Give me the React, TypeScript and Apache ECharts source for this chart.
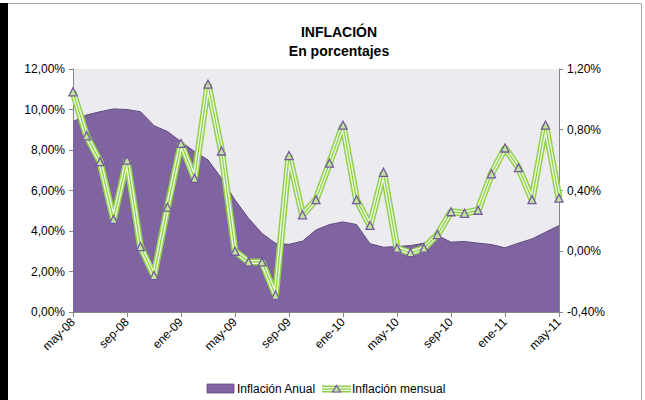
import React, { useEffect, useRef } from "react";
import * as echarts from "echarts";

const months = [
  "may-08", "jun-08", "jul-08", "ago-08", "sep-08", "oct-08", "nov-08", "dic-08",
  "ene-09", "feb-09", "mar-09", "abr-09", "may-09", "jun-09", "jul-09", "ago-09",
  "sep-09", "oct-09", "nov-09", "dic-09", "ene-10", "feb-10", "mar-10", "abr-10",
  "may-10", "jun-10", "jul-10", "ago-10", "sep-10", "oct-10", "nov-10", "dic-10",
  "ene-11", "feb-11", "mar-11", "abr-11", "may-11",
];

const inflacionAnual = [
  9.4, 9.73, 9.89, 10.03, 10.0, 9.89, 9.2, 8.91,
  8.41, 7.92, 7.51, 6.6, 5.53, 4.63, 3.88, 3.39,
  3.34, 3.5, 4.05, 4.32, 4.45, 4.32, 3.37, 3.2,
  3.23, 3.28, 3.4, 3.78, 3.45, 3.48, 3.4, 3.33,
  3.17, 3.4, 3.61, 3.94, 4.27,
];

const inflacionMensual = [
  1.05, 0.76, 0.59, 0.21, 0.6, 0.03, -0.16, 0.29,
  0.71, 0.48, 1.1, 0.66, 0.0, -0.07, -0.07, -0.29,
  0.63, 0.24, 0.34, 0.58, 0.83, 0.34, 0.17, 0.52,
  0.02, -0.01, 0.02, 0.11, 0.26, 0.25, 0.27, 0.51,
  0.68, 0.55, 0.34, 0.83, 0.35,
];

const FONT = "'Liberation Sans', Arial, sans-serif";
const GREEN = "#8fd14a";
const LIGHT = "#eef8e2";
const PURPLE = "#8064a2";
const MARK_FILL = "#c2e49c";
const MARK_EDGE = "#7558a0";

const pct = (v: number) => v.toFixed(2).replace(".", ",") + "%";

export default function App() {
  const ref = useRef<HTMLDivElement>(null);
  useEffect(() => {
    if (!ref.current) return;
    const chart = echarts.init(ref.current, null, { renderer: "svg" });
    const lineBase = {
      type: "line" as const,
      yAxisIndex: 1,
      data: inflacionMensual,
      silent: true,
    };
    chart.setOption({
      animation: false,
      backgroundColor: "#ffffff",
      textStyle: { fontFamily: FONT },
      title: [
        {
          text: "INFLACIÓN",
          left: 334,
          top: 20,
          textAlign: "center",
          textStyle: { fontFamily: FONT, fontSize: 14, fontWeight: "bold", color: "#000" },
        },
        {
          text: "En porcentajes",
          left: 334,
          top: 39,
          textAlign: "center",
          textStyle: { fontFamily: FONT, fontSize: 14, fontWeight: "bold", color: "#000" },
        },
      ],
      grid: {
        left: 73,
        right: 86,
        top: 69,
        bottom: 88,
        show: true,
        backgroundColor: "#ecebf0",
        borderWidth: 0,
      },
      xAxis: {
        type: "category",
        data: months,
        boundaryGap: false,
        axisLine: { onZero: false, lineStyle: { color: "#868686" } },
        axisTick: { interval: 3, length: 5, lineStyle: { color: "#868686" } },
        axisLabel: {
          interval: 3,
          rotate: 45,
          fontSize: 12,
          color: "#000",
          fontFamily: FONT,
          margin: 8,
        },
        splitLine: { show: false },
      },
      yAxis: [
        {
          type: "value",
          min: 0,
          max: 12,
          interval: 2,
          axisLine: { show: true, lineStyle: { color: "#868686" } },
          axisTick: { show: true, length: 4, lineStyle: { color: "#868686" } },
          axisLabel: { formatter: pct, fontSize: 12, color: "#000", fontFamily: FONT, margin: 8 },
          splitLine: { show: false },
        },
        {
          type: "value",
          min: -0.4,
          max: 1.2,
          interval: 0.4,
          position: "right",
          axisLine: { show: true, lineStyle: { color: "#868686" } },
          axisTick: { show: true, length: 4, lineStyle: { color: "#868686" } },
          axisLabel: { formatter: pct, fontSize: 12, color: "#000", fontFamily: FONT, margin: 8 },
          splitLine: { show: false },
        },
      ],
      series: [
        {
          name: "Inflación Anual",
          type: "line",
          yAxisIndex: 0,
          data: inflacionAnual,
          symbol: "none",
          lineStyle: { color: "#5e4a7e", width: 1 },
          areaStyle: { color: PURPLE, opacity: 1 },
          silent: true,
          z: 1,
        },
        {
          ...lineBase,
          name: "m1",
          symbol: "none",
          lineStyle: { color: GREEN, width: 7 },
          z: 2,
        },
        {
          ...lineBase,
          name: "m2",
          symbol: "none",
          lineStyle: { color: LIGHT, width: 4 },
          z: 3,
        },
        {
          ...lineBase,
          name: "Inflación mensual",
          symbol: "triangle",
          symbolSize: 8,
          itemStyle: { color: MARK_FILL, borderColor: MARK_EDGE, borderWidth: 1.3 },
          lineStyle: { color: GREEN, width: 1.3 },
          z: 4,
        },
      ],
      graphic: [
        { type: "rect", shape: { x: 0, y: 3, width: 8, height: 397 }, style: { fill: "#000" } },
        {
          type: "polyline",
          shape: { points: [[8, 3.5], [641.5, 3.5], [641.5, 400]] },
          style: { stroke: "#a6a6a6", fill: "none", lineWidth: 1 },
        },
        {
          type: "rect",
          shape: { x: 207, y: 384, width: 27, height: 9 },
          style: { fill: PURPLE, stroke: "#5e4a7e", lineWidth: 0.8 },
        },
        {
          type: "text",
          x: 237,
          y: 389,
          style: { text: "Inflación Anual", fontSize: 12, fontFamily: FONT, fill: "#000", verticalAlign: "middle" },
        },
        { type: "line", shape: { x1: 322, y1: 389, x2: 351, y2: 389 }, style: { stroke: GREEN, lineWidth: 7 } },
        { type: "line", shape: { x1: 322, y1: 389, x2: 351, y2: 389 }, style: { stroke: LIGHT, lineWidth: 4 } },
        { type: "line", shape: { x1: 322, y1: 389, x2: 351, y2: 389 }, style: { stroke: GREEN, lineWidth: 1.3 } },
        {
          type: "polygon",
          shape: { points: [[336.5, 385.5], [340.5, 392], [332.5, 392]] },
          style: { fill: MARK_FILL, stroke: MARK_EDGE, lineWidth: 1.2 },
        },
        {
          type: "text",
          x: 352,
          y: 389,
          style: { text: "Inflación mensual", fontSize: 12, fontFamily: FONT, fill: "#000", verticalAlign: "middle" },
        },
      ],
    });
    return () => chart.dispose();
  }, []);
  return (
    <div
      ref={ref}
      style={{ position: "absolute", left: 0, top: 0, width: 645, height: 400 }}
    />
  );
}
